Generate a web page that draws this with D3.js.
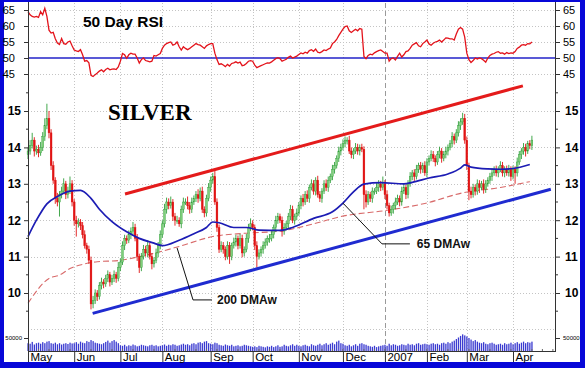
<!DOCTYPE html>
<html><head><meta charset="utf-8">
<script src="https://cdn.jsdelivr.net/npm/d3@7"></script>
<style>body{margin:0;background:#fff}svg{display:block}</style>
</head><body>
<svg id="c" width="585" height="368"></svg>
<script>
// ---- data (trading-day index 0 = 1 May 2006) ----
const closes = [13.9,14.05,14.2,13.9,13.95,13.85,14.0,14.3,14.6,14.8,14.4,
13.5,13.1,12.6,12.5,12.7,12.8,13.0,12.7,12.8,13.0,12.5,
12.0,11.9,11.95,11.85,11.6,11.3,11.2,10.9,9.7,9.8,10.0,
9.9,10.2,10.3,10.25,10.4,10.5,10.3,10.4,10.5,10.4,10.7,
10.85,11.3,11.5,11.45,11.6,11.7,11.8,11.5,11.0,10.7,11.0,
11.2,11.1,11.3,11.0,10.8,10.9,11.1,11.3,11.6,11.9,12.3,
12.5,12.4,12.5,12.1,12.0,12.0,11.9,12.3,12.5,12.5,12.4,
12.3,12.5,12.6,12.7,12.6,12.8,12.3,12.2,12.6,12.9,13.1,
13.2,12.5,11.8,11.2,11.3,11.2,11.0,11.3,11.0,11.3,11.4,
11.5,11.3,11.5,11.1,11.2,11.5,11.8,11.9,11.8,11.3,11.0,
11.1,11.2,11.3,11.4,11.5,11.5,11.6,11.8,12.0,12.1,12.0,
11.7,11.8,11.9,12.1,12.3,12.0,12.1,12.2,12.4,12.6,12.5,
12.7,12.6,12.9,13.0,12.8,13.1,12.7,12.6,12.8,13.0,12.9,
13.1,13.2,13.4,13.5,13.7,13.9,14.0,14.1,14.2,14.2,13.9,
13.8,13.9,14.0,13.9,14.0,13.95,12.7,12.5,12.7,12.6,12.8,
12.8,12.9,13.0,12.9,13.0,12.7,12.4,12.2,12.3,12.4,12.5,
12.6,12.5,12.8,12.9,12.7,13.0,13.2,13.3,13.2,13.4,13.5,
13.4,13.5,13.3,13.6,13.7,13.8,13.7,13.6,13.8,13.9,13.7,
13.8,13.9,14.0,14.1,14.3,14.2,14.4,14.6,14.7,14.8,14.2,
13.5,12.8,12.7,12.9,12.8,13.0,12.9,13.0,12.85,13.0,13.1,
13.2,13.3,13.4,13.3,13.4,13.5,13.3,13.4,13.3,13.4,13.2,
13.4,13.3,13.6,13.8,13.9,14.0,13.9,14.1,14.05,14.2];
const firstOpen = 13.8;
// wick extensions above / below the candle body, in cents
const upWick = [10,15,20,8,10,12,15,12,20,40,20,
10,12,8,15,10,12,15,8,12,20,10,
8,12,10,8,10,12,8,10,10,12,10,
8,10,12,8,10,12,8,10,12,8,15,
10,12,10,8,12,10,15,10,12,8,10,
12,10,15,8,10,8,12,10,12,10,15,
12,10,15,8,10,12,8,10,12,10,15,
10,12,8,10,15,10,12,8,10,12,10,
10,15,10,8,12,10,8,12,10,8,12,
10,8,12,10,8,12,10,15,10,8,12,
10,8,12,10,8,12,10,8,12,10,8,
10,12,8,10,12,10,8,12,10,8,12,
10,12,8,12,10,8,12,10,8,10,12,
10,8,12,10,8,12,10,12,10,8,12,
10,8,12,10,8,10,8,12,10,8,10,
8,12,10,8,20,10,12,8,10,8,12,
10,8,12,10,8,10,12,8,10,12,8,
10,8,12,10,8,12,10,8,10,12,8,
10,12,8,10,12,8,10,12,10,15,12,
10,8,12,10,8,12,10,8,12,10,8,
10,12,8,10,8,12,10,8,10,12,8,
10,8,12,10,8,12,10,8,10,12];
const downWick = [12,10,8,15,10,12,8,10,12,10,15,
12,10,15,12,40,10,8,12,10,8,12,
15,35,10,12,10,8,12,10,15,12,10,
12,8,10,12,8,10,12,8,10,12,8,
10,8,12,10,8,12,10,8,12,15,10,
8,10,12,8,15,10,8,12,10,8,10,
12,10,8,12,15,10,8,12,10,8,10,
12,10,8,10,12,8,10,12,10,8,12,
10,8,12,10,8,12,10,8,20,10,8,
12,10,8,12,10,8,12,10,8,12,30,
8,10,12,8,10,12,8,10,12,10,8,
15,10,8,12,10,8,12,10,8,10,12,
8,10,12,8,10,12,8,10,12,8,10,
12,8,10,12,8,10,12,8,10,12,8,
10,12,8,10,12,8,40,15,8,10,12,
10,8,12,10,8,12,10,10,8,12,10,
8,12,10,8,12,10,8,10,12,8,10,
12,10,8,12,10,8,10,12,8,10,12,
8,10,12,8,10,12,8,10,12,8,10,
12,25,10,8,12,10,15,8,12,10,8,
10,12,8,10,12,8,10,12,8,10,12,
8,30,10,8,12,10,15,8,10,12];
// volume in thousands
const volumes = [30,28,35,25,30,32,28,34,30,36,38,30,28,32,26,30,25,28,30,27,32,29,
30,34,28,36,32,30,38,35,42,38,32,30,28,26,30,35,40,32,38,42,36,30,
22,20,24,18,22,20,25,22,18,20,24,22,20,18,22,24,20,22,18,20,
22,25,20,24,22,26,24,20,22,25,28,24,26,22,28,30,26,32,34,30,36,38,30,
28,26,32,30,24,22,20,25,22,20,24,18,20,22,18,20,24,22,20,18,
16,18,15,20,18,16,14,18,16,20,15,18,22,16,18,24,20,18,22,26,20,24,
20,18,22,24,20,18,26,22,20,24,28,22,26,30,24,28,32,26,36,40,30,
28,22,20,24,18,22,26,20,28,30,26,24,20,18,16,20,15,18,20,22,
24,20,28,22,26,24,20,22,26,24,22,28,24,26,22,28,30,24,26,28,
26,24,28,30,26,28,24,30,32,28,34,30,36,40,46,52,58,64,60,
56,50,44,38,42,36,32,30,34,28,26,30,32,28,24,26,28,24,30,26,28,32,
26,30,34,28,32,36,30,34,32,36];
const rsi = [64.5,63.5,63,62.8,63,62.7,64.5,63.5,65.5,63,58.7,
57.8,58,56,54.7,54.2,56.1,54.5,54.3,55,55.3,53.8,
52.5,52.2,52,52.6,51,49,49.2,48.5,44.6,44.2,44.8,
45.3,45.9,46.3,45.7,46.4,46.8,46.3,46.5,46.6,46.4,47.2,
49,51.4,51,49.9,51,51.5,51.2,51.2,50,48.4,49.5,
50,49.2,49,48.8,49,50.8,50.6,51,51.4,53,54,
54.5,54.8,55,54,54.3,55,53.5,52.5,53.5,53,52.6,
53,53.5,54,54.5,54.2,54,53.5,53,53.8,54.2,54.5,
54.5,51.5,49.5,48,48.2,47.8,47.3,48,47.5,48.3,48.5,
48.8,48.4,48.7,47.6,47.8,48.3,49,49.2,49,47.8,47,
47.3,47.6,47.9,48.2,48.5,48.4,48.8,49.3,49.8,50.1,49.8,
49,49.3,49.6,50.2,50.6,50,50.3,50.6,51.1,51.6,51.3,
51.8,51.5,52.3,52.6,52.1,52.8,51.8,51.6,52,52.5,52.3,
52.8,53.1,54.5,55,55.8,57,58,59,59.8,60,58.5,
58,58.5,59,58.5,59.2,59,50.5,49.8,50.8,51.2,51,
51.6,52,52.3,52.5,52,51.5,51.5,49,49.8,50,49.4,
50.5,51.5,50.3,51,52,52.2,53,54,54.4,54.8,53.8,
53.5,54.5,55,55.6,54.4,54,54.6,55,55.2,55.6,55,
55.6,56.3,56.2,56,56,55.6,57.5,59,59.5,59,56.5,
51.5,49.5,48.6,49.2,50,49.7,50,49.8,49.3,48.7,50,
50.8,51.2,51.4,51.8,52,51.5,51.6,51.2,51.7,51.4,51.6,
51.5,52,53,53.4,54,54.2,54,54.5,54.4,55];
// moving averages: [trading-day index, price]
const ma65 = [[0,11.55],[4,12.0],[9,12.45],[14,12.65],[20,12.8],[25,12.82],[30,12.6],[34,12.3],
[40,11.96],[47,11.68],[53,11.5],[60,11.37],[64,11.3],[72,11.45],[79,11.63],[85,11.8],[88,11.95],
[91,11.93],[98,11.8],[104,11.8],[110,11.73],[120,11.72],[126,11.8],[136,12.05],[145,12.23],
[150,12.47],[155,12.78],[160,12.99],[168,13.03],[179,13.0],[183,13.04],[191,13.16],[200,13.27],
[206,13.43],[208,13.52],[211,13.46],[219,13.41],[225,13.4],[231,13.42],[239,13.53]];
const ma200 = [[0,9.72],[10,10.4],[15,10.49],[20,10.67],[27,10.8],[33,10.86],[43,10.89],[53,11.0],
[62,11.12],[72,11.28],[88,11.55],[103,11.64],[120,11.7],[136,11.9],[149,12.1],[172,12.28],
[189,12.46],[207,12.75],[225,12.9],[239,13.06]];
const upperChannel = [[46.2,12.72],[235.7,15.69]];
const lowerChannel = [[30.8,9.44],[249,12.85]];
const monthStarts = [0,22,44,64,87,107,129,150,170,190,209,231];
const monthLabels = ["May","Jun","Jul","Aug","Sep","Oct","Nov","Dec","2007","Feb","Mar","Apr"];
const priceTicks = [10,11,12,13,14,15];
const priceGrid = [9,10,11,12,13,14,15];
const rsiTicks = [45,50,55,60,65];
const volTicks = [50000];
const notes = [
  {text:"200 DMAw", pts:[[71,11.24],[78.6,9.81],[87.6,9.81]], at:[90,9.81]},
  {text:"65 DMAw", pts:[[150,12.47],[168.6,11.35],[181.9,11.35]], at:[185.2,11.35]}
];

// ---- drawing ----
const svg = d3.select("#c");
const W = 585, H = 368;
const L = 28, R = 555;
const x = d3.scaleLinear().domain([0,251]).range([L,R]);
const yP = d3.scaleLinear().domain([10,15]).range([293,111]);
const yR = d3.scaleLinear().domain([50,65]).range([58,10]);
const yV = d3.scaleLinear().domain([0,50000]).range([351,338]);
const sans = "'Liberation Sans', Arial, sans-serif";

svg.append("rect").attr("width",W).attr("height",H).attr("fill","#0707d8");
svg.append("rect").attr("x",4).attr("y",2).attr("width",576).attr("height",360).attr("fill","#ffffff");

const grid = svg.append("g").attr("stroke","#c4c4c4").attr("stroke-dasharray","1,2").attr("stroke-width",1);
monthStarts.slice(1).forEach((m,i)=>{
  if (monthLabels[i+1] === "2007") return;
  grid.append("line").attr("x1",Math.round(x(m))+0.5).attr("x2",Math.round(x(m))+0.5).attr("y1",3).attr("y2",351);
});
priceGrid.forEach(p=>grid.append("line").attr("x1",L).attr("x2",R).attr("y1",Math.round(yP(p))+0.5).attr("y2",Math.round(yP(p))+0.5));
rsiTicks.filter(r=>r!==50).forEach(r=>grid.append("line").attr("x1",L).attr("x2",R).attr("y1",Math.round(yR(r))+0.5).attr("y2",Math.round(yR(r))+0.5));
// year divider
const yr = monthStarts[monthLabels.indexOf("2007")];
svg.append("line").attr("x1",Math.round(x(yr))+0.5).attr("x2",Math.round(x(yr))+0.5).attr("y1",3).attr("y2",362)
  .attr("stroke","#9a9a9a").attr("stroke-dasharray","5,3");

// RSI 50 line and RSI curve
svg.append("line").attr("x1",L).attr("x2",R).attr("y1",yR(50)).attr("y2",yR(50)).attr("stroke","#2222c8").attr("stroke-width",1.5);
svg.append("path").datum(rsi).attr("fill","none").attr("stroke","#e3131b").attr("stroke-width",1.3)
  .attr("d", d3.line().x((d,i)=>x(i)).y(d=>yR(d)));

// volume
svg.append("g").selectAll("rect").data(volumes).join("rect")
  .attr("x",(d,i)=>x(i)-0.6).attr("width",1.3)
  .attr("y",d=>yV(d*1000)).attr("height",d=>351-yV(d*1000))
  .attr("fill","#3a3ad0");

// moving averages
const lineP = d3.line().x(d=>x(d[0])).y(d=>yP(d[1])).curve(d3.curveMonotoneX);
svg.append("path").datum(ma200).attr("fill","none").attr("stroke","#d86a6a").attr("stroke-width",1.1)
  .attr("stroke-dasharray","6,3").attr("d",lineP);

// candles
const cg = svg.append("g");
closes.forEach((c,i)=>{
  const o = i===0 ? firstOpen : closes[i-1];
  const hi = Math.max(o,c) + upWick[i]/100, lo = Math.min(o,c) - downWick[i]/100;
  const up = c >= o;
  const col = up ? "#2f9e3a" : "#e01414";
  const cx = x(i);
  cg.append("line").attr("x1",cx).attr("x2",cx).attr("y1",yP(hi)).attr("y2",yP(lo)).attr("stroke",col).attr("stroke-width",0.9);
  const top = yP(Math.max(o,c)), bot = yP(Math.min(o,c));
  cg.append("rect").attr("x",cx-0.9).attr("width",1.8).attr("y",top).attr("height",Math.max(1,bot-top))
    .attr("fill", up ? "#7fcf7a" : "#e01414").attr("stroke", col).attr("stroke-width",0.4);
});

svg.append("path").datum(ma65).attr("fill","none").attr("stroke","#1c1cb4").attr("stroke-width",1.7).attr("d",lineP);

// channel lines
const lineS = d3.line().x(d=>x(d[0])).y(d=>yP(d[1]));
svg.append("path").datum(upperChannel).attr("stroke","#e41b1b").attr("stroke-width",3).attr("fill","none").attr("d",lineS);
svg.append("path").datum(lowerChannel).attr("stroke","#1f2bd0").attr("stroke-width",3).attr("fill","none").attr("d",lineS);

// annotations
notes.forEach(n=>{
  svg.append("path").datum(n.pts).attr("fill","none").attr("stroke","#111").attr("stroke-width",1).attr("d",lineS);
  svg.append("text").attr("x",x(n.at[0])).attr("y",yP(n.at[1])+4).attr("font-family",sans).attr("font-weight","bold")
    .attr("font-size",12).attr("fill","#111").text(n.text);
});

// axes frame
const ax = svg.append("g").attr("stroke","#333").attr("stroke-width",1);
ax.append("line").attr("x1",L+0.5).attr("x2",L+0.5).attr("y1",2).attr("y2",351);
ax.append("line").attr("x1",R+0.5).attr("x2",R+0.5).attr("y1",2).attr("y2",351);
ax.append("line").attr("x1",L).attr("x2",R+1).attr("y1",351.5).attr("y2",351.5);

function styleAxis(g, size, weight){
  g.select(".domain").remove();
  g.selectAll("text").attr("font-family",sans).attr("font-size",size).attr("font-weight",weight).attr("fill","#000");
  g.selectAll("line").attr("stroke","#333");
}
const fInt = d3.format("d");
svg.append("g").attr("transform",`translate(${L},0)`).call(d3.axisLeft(yP).tickValues(priceTicks).tickFormat(fInt).tickSize(4).tickPadding(3)).call(g=>styleAxis(g,12,"bold"));
svg.append("g").attr("transform",`translate(${R+1},0)`).call(d3.axisRight(yP).tickValues(priceTicks).tickFormat(fInt).tickSize(4).tickPadding(5)).call(g=>styleAxis(g,12,"bold"));
svg.append("g").attr("transform",`translate(${L},0)`).call(d3.axisLeft(yR).tickValues(rsiTicks).tickFormat(fInt).tickSize(4).tickPadding(9)).call(g=>styleAxis(g,11,"normal"));
svg.append("g").attr("transform",`translate(${R+1},0)`).call(d3.axisRight(yR).tickValues(rsiTicks).tickFormat(fInt).tickSize(4).tickPadding(3)).call(g=>styleAxis(g,11,"normal"));
svg.append("g").attr("transform",`translate(${L},0)`).call(d3.axisLeft(yV).tickValues(volTicks).tickFormat(fInt).tickSize(4).tickPadding(2)).call(g=>styleAxis(g,6,"normal"));
svg.append("g").attr("transform",`translate(${R+1},0)`).call(d3.axisRight(yV).tickValues(volTicks).tickFormat(fInt).tickSize(4).tickPadding(3)).call(g=>styleAxis(g,6,"normal"));
// minor ticks
const minorP = d3.range(9.5,15.6,0.5).filter(v=>v%1!==0);
minorP.forEach(v=>{
  ax.append("line").attr("x1",L-2).attr("x2",L).attr("y1",yP(v)).attr("y2",yP(v));
  ax.append("line").attr("x1",R+1).attr("x2",R+3).attr("y1",yP(v)).attr("y2",yP(v));
});
d3.range(5,251,5).forEach(i=>ax.append("line").attr("x1",x(i)).attr("x2",x(i)).attr("y1",349).attr("y2",351).attr("stroke","#666"));

// month axis
const mx = svg.append("g").attr("transform","translate(0,351)")
  .call(d3.axisBottom(x).tickValues(monthStarts).tickFormat((d,i)=>monthLabels[i]).tickSize(11).tickPadding(-9));
mx.select(".domain").remove();
mx.selectAll("line").attr("stroke","#333");
mx.selectAll("text").attr("text-anchor","start").attr("dx",2).attr("dy","0.35em").attr("y",6)
  .attr("font-family",sans).attr("font-size",11.5).attr("fill","#000");

// titles
svg.append("text").attr("x",83).attr("y",27).attr("font-family",sans).attr("font-weight","bold").attr("font-size",15.5).attr("fill","#000").text("50 Day RSI");
svg.append("text").attr("x",108).attr("y",120).attr("font-family","'Liberation Serif','Times New Roman',serif").attr("font-weight","bold").attr("font-size",23).attr("fill","#000").text("SILVER");
</script>
</body></html>
